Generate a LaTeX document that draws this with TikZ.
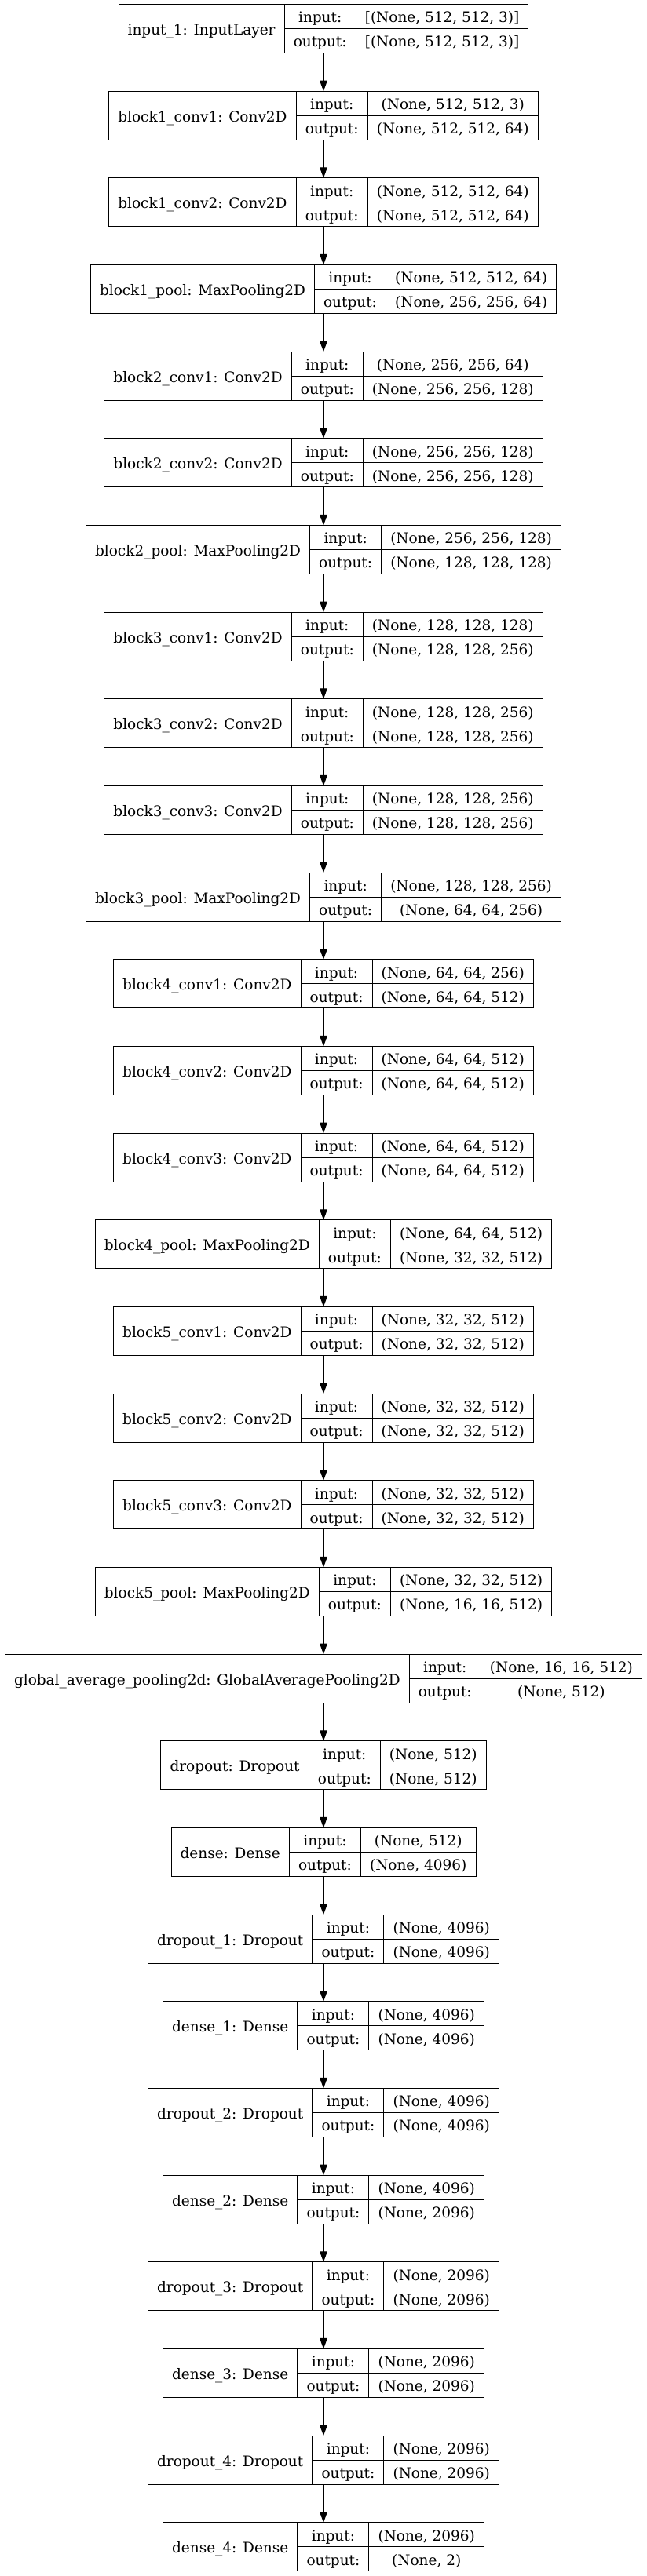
\documentclass[tikz,border=0pt]{standalone}
\usepackage{fontspec}
\setmainfont{DejaVu Serif}
\usetikzlibrary{arrows.meta}
\newlength\cwA \newlength\cwB \newlength\cwC \newlength\cwT
\newcommand\lf{\fontsize{13.86pt}{16pt}\selectfont}
\tikzset{
  cell/.style={draw=black, line width=0.75pt, inner sep=0pt, outer sep=0pt, font=\lf, text height=11.8pt, text depth=0pt},
  arr/.style={draw=black, line width=0.75pt, -{Triangle[length=10.1pt,width=7.3pt]}}
}
\newcommand\kerasbox[5]{%
  \pgfinterruptpicture
    \normalfont
    \setbox0\hbox{\lf #3}\global\cwA=\wd0
    \setbox0\hbox{\lf output:}\global\cwB=\wd0
    \setbox0\hbox{\lf #4}\global\cwC=\wd0
    \setbox0\hbox{\lf #5}\global\cwT=\wd0
  \endpgfinterruptpicture
  \ifdim\cwT>\cwC \global\cwC=\cwT\fi
  \global\advance\cwA by 17.4pt
  \global\advance\cwB by 17.4pt
  \global\advance\cwC by 17.4pt
  \pgfmathsetmacro\ltop{4.05+83.0*#2}%
  \pgfmathsetmacro\lbot{\ltop+46.6}%
  \pgfmathsetmacro\lleft{309-(\cwA+\cwB+\cwC)/2}%
  \node[cell, minimum width=\cwA, minimum height=46.6pt, anchor=north west] (#1) at (\lleft pt, -\ltop pt) {#3};
  \node[cell, minimum width=\cwB, minimum height=23.3pt, anchor=north west] (#1-in) at (#1.north east) {input:};
  \node[cell, minimum width=\cwB, minimum height=23.3pt, anchor=north west] (#1-out) at (#1-in.south west) {output:};
  \node[cell, minimum width=\cwC, minimum height=23.3pt, anchor=north west] (#1-ins) at (#1-in.north east) {#4};
  \node[cell, minimum width=\cwC, minimum height=23.3pt, anchor=north west] (#1-outs) at (#1-ins.south west) {#5};
  \coordinate (#1-top) at (309pt, -\ltop pt);
  \coordinate (#1-bot) at (309pt, -\lbot pt);
}
\begin{document}
\begin{tikzpicture}
\fill[white] (0,0) rectangle (618pt,-2462.25pt);
\useasboundingbox (0,0) rectangle (618pt,-2462.25pt);
\kerasbox{L0}{0}{input\_1: InputLayer}{[(None, 512, 512, 3)]}{[(None, 512, 512, 3)]}
\kerasbox{L1}{1}{block1\_conv1: Conv2D}{(None, 512, 512, 3)}{(None, 512, 512, 64)}
\kerasbox{L2}{2}{block1\_conv2: Conv2D}{(None, 512, 512, 64)}{(None, 512, 512, 64)}
\kerasbox{L3}{3}{block1\_pool: MaxPooling2D}{(None, 512, 512, 64)}{(None, 256, 256, 64)}
\kerasbox{L4}{4}{block2\_conv1: Conv2D}{(None, 256, 256, 64)}{(None, 256, 256, 128)}
\kerasbox{L5}{5}{block2\_conv2: Conv2D}{(None, 256, 256, 128)}{(None, 256, 256, 128)}
\kerasbox{L6}{6}{block2\_pool: MaxPooling2D}{(None, 256, 256, 128)}{(None, 128, 128, 128)}
\kerasbox{L7}{7}{block3\_conv1: Conv2D}{(None, 128, 128, 128)}{(None, 128, 128, 256)}
\kerasbox{L8}{8}{block3\_conv2: Conv2D}{(None, 128, 128, 256)}{(None, 128, 128, 256)}
\kerasbox{L9}{9}{block3\_conv3: Conv2D}{(None, 128, 128, 256)}{(None, 128, 128, 256)}
\kerasbox{L10}{10}{block3\_pool: MaxPooling2D}{(None, 128, 128, 256)}{(None, 64, 64, 256)}
\kerasbox{L11}{11}{block4\_conv1: Conv2D}{(None, 64, 64, 256)}{(None, 64, 64, 512)}
\kerasbox{L12}{12}{block4\_conv2: Conv2D}{(None, 64, 64, 512)}{(None, 64, 64, 512)}
\kerasbox{L13}{13}{block4\_conv3: Conv2D}{(None, 64, 64, 512)}{(None, 64, 64, 512)}
\kerasbox{L14}{14}{block4\_pool: MaxPooling2D}{(None, 64, 64, 512)}{(None, 32, 32, 512)}
\kerasbox{L15}{15}{block5\_conv1: Conv2D}{(None, 32, 32, 512)}{(None, 32, 32, 512)}
\kerasbox{L16}{16}{block5\_conv2: Conv2D}{(None, 32, 32, 512)}{(None, 32, 32, 512)}
\kerasbox{L17}{17}{block5\_conv3: Conv2D}{(None, 32, 32, 512)}{(None, 32, 32, 512)}
\kerasbox{L18}{18}{block5\_pool: MaxPooling2D}{(None, 32, 32, 512)}{(None, 16, 16, 512)}
\kerasbox{L19}{19}{global\_average\_pooling2d: GlobalAveragePooling2D}{(None, 16, 16, 512)}{(None, 512)}
\kerasbox{L20}{20}{dropout: Dropout}{(None, 512)}{(None, 512)}
\kerasbox{L21}{21}{dense: Dense}{(None, 512)}{(None, 4096)}
\kerasbox{L22}{22}{dropout\_1: Dropout}{(None, 4096)}{(None, 4096)}
\kerasbox{L23}{23}{dense\_1: Dense}{(None, 4096)}{(None, 4096)}
\kerasbox{L24}{24}{dropout\_2: Dropout}{(None, 4096)}{(None, 4096)}
\kerasbox{L25}{25}{dense\_2: Dense}{(None, 4096)}{(None, 2096)}
\kerasbox{L26}{26}{dropout\_3: Dropout}{(None, 2096)}{(None, 2096)}
\kerasbox{L27}{27}{dense\_3: Dense}{(None, 2096)}{(None, 2096)}
\kerasbox{L28}{28}{dropout\_4: Dropout}{(None, 2096)}{(None, 2096)}
\kerasbox{L29}{29}{dense\_4: Dense}{(None, 2096)}{(None, 2)}
\foreach \i [evaluate=\i as \j using int(\i+1)] in {0,...,28} {
  \draw[arr] (L\i-bot) -- (L\j-top);
}
\end{tikzpicture}
\end{document}
